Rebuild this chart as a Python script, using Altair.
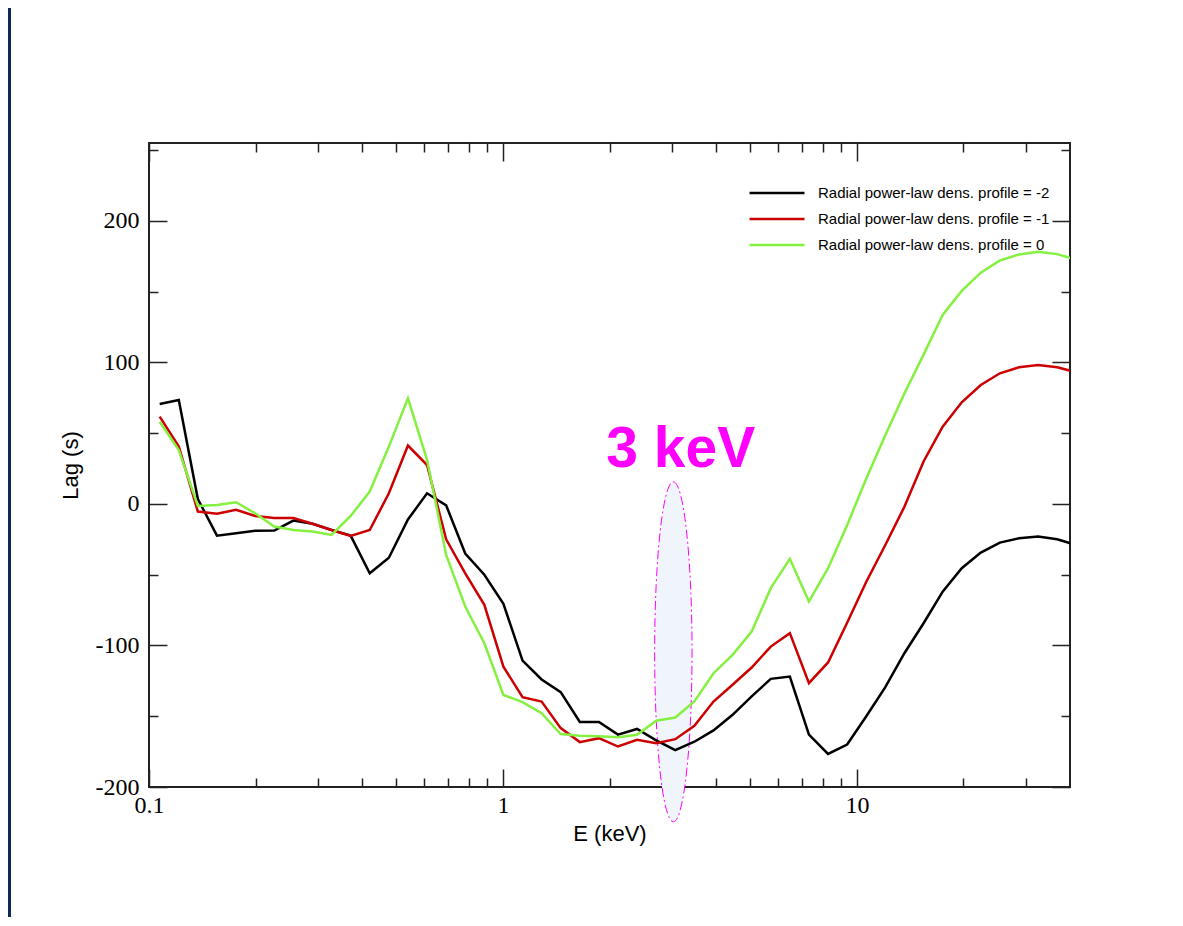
import altair as alt
import pandas as pd

# ---- data ----
energy_kev = [0.1072, 0.1214, 0.1374, 0.1556, 0.1762, 0.1995, 0.2259, 0.2558, 0.2896, 0.3279,
              0.3713, 0.4204, 0.4761, 0.5390, 0.6103, 0.6911, 0.7825, 0.8860, 1.003, 1.136,
              1.286, 1.456, 1.649, 1.867, 2.113, 2.393, 2.710, 3.068, 3.474, 3.934,
              4.454, 5.043, 5.710, 6.465, 7.320, 8.289, 9.385, 10.63, 12.03, 13.62,
              15.43, 17.47, 19.78, 22.39, 25.35, 28.71, 32.50, 36.80, 41.67]

lag_m2 = [70.6, 73.4, 3.5, -22.4, -20.7, -19.0, -18.8, -11.8, -14.0, -18.4,
          -22.4, -49.0, -38.0, -11.0, 7.5, -1.0, -35.0, -50.0, -70.6, -110.7,
          -124.0, -133.0, -154.0, -154.0, -163.0, -159.0, -167.0, -174.0, -168.0, -160.0,
          -149.0, -136.0, -123.6, -122.0, -163.0, -176.6, -170.0, -150.0, -129.5, -105.5,
          -84.3, -62.0, -45.4, -34.4, -27.3, -24.3, -23.1, -25.0, -29.0]

lag_m1 = [61.7, 40.5, -5.4, -7.0, -4.2, -8.5, -9.9, -9.9, -14.0, -18.4,
          -22.6, -18.4, 7.5, 41.2, 27.5, -25.0, -49.0, -71.3, -115.0, -136.5,
          -139.6, -158.4, -168.3, -165.5, -171.4, -166.7, -169.0, -166.2, -156.8, -139.6,
          -127.8, -115.6, -100.8, -91.3, -126.6, -112.0, -84.0, -55.0, -29.0, -2.0,
          30.0, 54.6, 71.8, 84.0, 92.3, 96.5, 98.2, 96.5, 93.0]

lag_0 = [58.1, 38.0, -1.4, -0.7, 1.2, -6.6, -16.0, -18.4, -19.5, -21.9,
         -8.5, 8.7, 40.5, 74.6, 31.1, -36.0, -72.5, -98.4, -135.0, -140.0,
         -147.8, -162.6, -163.8, -164.2, -164.8, -163.1, -153.2, -150.9, -139.6, -119.6,
         -106.6, -90.2, -59.5, -38.8, -69.0, -45.4, -15.0, 18.0, 48.5, 78.0,
         105.5, 133.5, 150.5, 163.4, 172.0, 176.3, 178.2, 176.5, 172.5]

series_names = ["Radial power-law dens. profile = -2",
                "Radial power-law dens. profile = -1",
                "Radial power-law dens. profile = 0"]
series_colors = ["#000000", "#cc0000", "#85f040"]

x_major = [0.1, 1, 10]
x_minor = [0.2, 0.3, 0.4, 0.5, 0.6, 0.7, 0.8, 0.9, 2, 3, 4, 5, 6, 7, 8, 9, 20, 30]
y_major = [-200, -100, 0, 100, 200]
y_minor = [-150, -50, 50, 150, 250]

annot_text = ["3 keV"]
annot_E = [3.18]
annot_lag = [26]
ellipse_E = [3.03]
ellipse_lag = [-104.5]

# ---- build tables ----
rows = []
for name, vals in zip(series_names, [lag_m2, lag_m1, lag_0]):
    for e, v in zip(energy_kev, vals):
        rows.append({"E": e, "lag": v, "series": name})
df = pd.DataFrame(rows)
annot_df = pd.DataFrame({"E": annot_E, "lag": annot_lag, "text": annot_text})
ell_df = pd.DataFrame({"E": ellipse_E, "lag": ellipse_lag})

W, H = 921, 644
PAD_L, PAD_T, PAD_R, PAD_B = 141, 135, 100, 130
SERIF = "Liberation Serif"
SANS = "Liberation Sans"
TICK_COLOR = "#222222"

xscale = alt.Scale(type="log", domain=[0.1, 40], nice=False)
yscale = alt.Scale(domain=[-200, 255], nice=False, zero=False)

# main lines with labelled axes
lines = alt.Chart(df).mark_line(strokeWidth=2.5, clip=True).encode(
    x=alt.X("E:Q", scale=xscale,
            axis=alt.Axis(orient="bottom", values=x_major, labelExpr="datum.value + ''",
                          ticks=False, tickSize=0, labelFlush=False, labelOverlap=False,
                          domain=False, grid=False, labelFont=SERIF, labelFontSize=24,
                          labelColor="black", labelPadding=6, title="E (keV)", titleFont=SANS,
                          titleFontSize=22, titleFontWeight="normal", titleColor="black",
                          titleY=53, titleBaseline="alphabetic")),
    y=alt.Y("lag:Q", scale=yscale,
            axis=alt.Axis(orient="left", values=y_major, labelExpr="datum.value + ''",
                          ticks=False, tickSize=0, labelFlush=False, labelOverlap=False,
                          domain=False, grid=False, labelFont=SERIF, labelFontSize=24,
                          labelColor="black", labelPadding=10, title="Lag (s)", titleFont=SANS,
                          titleFontSize=22, titleFontWeight="normal", titleColor="black",
                          titleX=-72, titleY=H / 2, titleBaseline="alphabetic",
                          titleAngle=270)),
    color=alt.Color("series:N", scale=alt.Scale(domain=series_names, range=series_colors),
                    legend=alt.Legend(orient="none", legendX=599, legendY=37, title=None,
                                      symbolType="stroke", symbolSize=3025, symbolStrokeWidth=2.5,
                                      clipHeight=26, labelFont=SANS, labelFontSize=15,
                                      labelColor="black", labelLimit=500, labelOffset=12,
                                      padding=0, rowPadding=0)),
    detail="series:N",
)


def tick_layer(size, y_orient, x_orient, xvals, yvals):
    return alt.Chart(df).mark_point(opacity=0).encode(
        x=alt.X("E:Q", scale=xscale,
                axis=alt.Axis(orient=x_orient, offset=-H, values=xvals, labels=False, title=None,
                              domain=False, grid=False, ticks=True, tickSize=size,
                              tickColor=TICK_COLOR, tickWidth=1.5)),
        y=alt.Y("lag:Q", scale=yscale,
                axis=alt.Axis(orient=y_orient, offset=-W, values=yvals, labels=False, title=None,
                              domain=False, grid=False, ticks=True, tickSize=size,
                              tickColor=TICK_COLOR, tickWidth=1.5)),
    )


# inward ticks on all four sides (axes placed on the opposite edge)
t_left_major = tick_layer(18, "right", "top", x_major, y_major)
t_left_minor = tick_layer(9, "right", "top", x_minor, y_minor)
t_right_major = tick_layer(18, "left", "bottom", x_major, y_major)
t_right_minor = tick_layer(9, "left", "bottom", x_minor, y_minor)

ellipse = alt.Chart(ell_df).mark_point(
    shape="M 0 -1 A 0.11 1 0 1 1 0 1 A 0.11 1 0 1 1 0 -1 Z",
    size=115600, fill="#f0f5fb", fillOpacity=1, stroke="#ff00ff", strokeWidth=1,
    strokeDash=[9, 3, 2, 3], opacity=1,
).encode(
    x=alt.X("E:Q", scale=xscale, axis=None),
    y=alt.Y("lag:Q", scale=yscale, axis=None),
)

annot = alt.Chart(annot_df).mark_text(
    font=SANS, fontSize=57, fontWeight="bold", color="#ff00ff", align="center",
    baseline="alphabetic",
).encode(
    x=alt.X("E:Q", scale=xscale, axis=None),
    y=alt.Y("lag:Q", scale=yscale, axis=None),
    text="text:N",
)

side_bar = alt.Chart(annot_df).mark_rect(color="#0c2a5a").encode(
    x=alt.value(-PAD_L), x2=alt.value(-PAD_L + 3),
    y=alt.value(-PAD_T), y2=alt.value(H + PAD_B),
)

chart = alt.layer(
    side_bar, ellipse, lines, annot,
    t_left_major, t_left_minor, t_right_major, t_right_minor,
).resolve_axis(x="independent", y="independent").properties(
    width=W, height=H,
    padding={"left": PAD_L, "top": PAD_T, "right": PAD_R, "bottom": PAD_B},
    autosize=alt.AutoSizeParams(type="none"),
    background="white",
).configure_view(stroke="#222222", strokeWidth=2)

chart.save("out.html", embed_options={"renderer": "svg", "actions": False})
